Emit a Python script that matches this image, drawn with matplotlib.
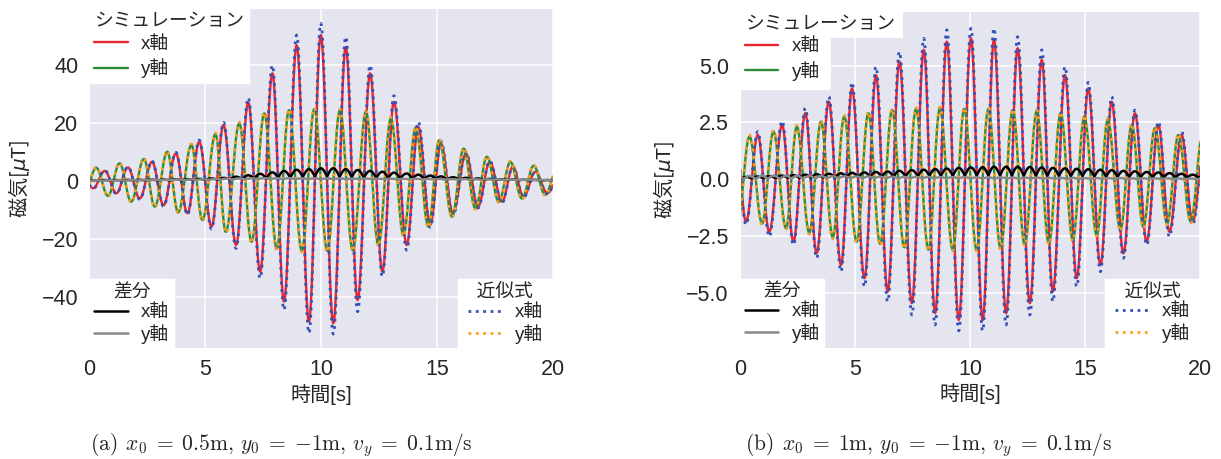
import numpy as np
import matplotlib.pyplot as plt
import seaborn as sns
from matplotlib.patches import Rectangle

# magnetic field, simulation vs. approximation
# extrema times [s] and values [uT]

# (a) x0 = 0.5m
a_x_t = [-0.35, 0.16, 0.66, 1.16, 1.66, 2.17, 2.70, 3.20, 3.73, 4.23, 4.74, 5.27, 5.79, 6.33,
         6.86, 7.37, 7.90, 8.40, 8.95, 9.48, 9.99, 10.53, 11.07, 11.58, 12.12, 12.65, 13.15,
         13.70, 14.20, 14.72, 15.18, 15.70, 16.26, 16.78, 17.29, 17.82, 18.29, 18.75, 19.26,
         19.78, 20.30]
a_x_sim = [2.6, -2.6, 3.4, -4.3, 4.6, -6.1, 6.5, -8.4, 9.4, -11.2, 13.4, -15.8, 19.2, -22.1,
           27.0, -31.3, 37.0, -41.6, 46.7, -48.5, 50.2, -49.1, 46.1, -41.1, 37.0, -31.3, 27.2,
           -22.1, 18.6, -15.2, 12.9, -11.2, 9.4, -8.9, 6.5, -7.2, 4.8, -5.5, 3.1, -4.3, 2.4]
a_x_apx = [2.7, -2.7, 3.6, -4.5, 4.8, -6.4, 6.8, -8.8, 9.8, -11.7, 14.0, -16.6, 20.1, -23.3,
           28.6, -33.6, 39.8, -44.5, 50.2, -52.5, 54.2, -52.8, 49.6, -45.1, 39.8, -33.0, 29.3,
           -23.9, 20.3, -16.0, 13.6, -11.8, 9.9, -9.4, 6.8, -7.6, 5.0, -5.8, 3.3, -4.5, 2.5]
a_y_t = [-0.20, 0.29, 0.80, 1.30, 1.80, 2.35, 2.82, 3.36, 3.83, 4.40, 4.88, 5.44, 5.89, 6.47,
         7.00, 7.55, 8.09, 8.62, 9.17, 9.71, 10.27, 10.82, 11.37, 11.94, 12.48, 13.02, 13.56,
         14.09, 14.64, 15.11, 15.66, 16.16, 16.67, 17.17, 17.68, 18.18, 18.68, 19.19, 19.68, 20.20]
a_y_sim = [-3.8, 4.5, -5.2, 6.0, -7.2, 7.5, -8.9, 10.0, -10.9, 12.3, -13.5, 16.1, -17.6, 19.8,
           -21.0, 23.2, -23.3, 24.3, -24.1, 24.7, -24.1, 24.3, -23.9, 23.8, -22.1, 21.5, -18.7,
           18.3, -15.8, 14.0, -12.4, 11.1, -9.5, 8.3, -7.2, 6.5, -6.1, 5.2, -4.8, 4.0]
a_y_apx = [-3.9, 4.7, -5.4, 6.2, -7.4, 7.8, -9.2, 10.3, -11.2, 12.7, -13.9, 16.5, -18.0, 20.2,
           -21.5, 23.6, -23.8, 24.7, -24.5, 25.1, -24.5, 24.7, -24.3, 24.2, -22.6, 21.9, -19.2,
           18.7, -16.2, 14.4, -12.8, 11.4, -9.8, 8.6, -7.5, 6.8, -6.4, 5.4, -5.0, 4.2]
# difference: bump tops (at the x / y extrema) and the lows between them
a_dx_peak = [0.2, 0.2, 0.25, 0.25, 0.3, 0.3, 0.35, 0.4, 0.45, 0.55, 0.65, 0.8, 1.0, 1.4, 1.9,
             2.4, 2.9, 3.4, 3.8, 4.0, 4.3, 4.3, 4.0, 3.7, 3.4, 3.1, 2.8, 2.5, 2.1, 1.8, 1.5,
             1.2, 1.0, 0.8, 0.65, 0.5, 0.45, 0.35, 0.3, 0.25, 0.2]
a_dx_low = [0.05, 0.05, 0.05, 0.05, 0.1, 0.1, 0.1, 0.1, 0.15, 0.2, 0.2, 0.3, 0.4, 0.5, 0.7,
            0.8, 1.0, 1.1, 1.3, 1.4, 1.4, 1.3, 1.2, 1.1, 1.0, 0.9, 0.8, 0.7, 0.6, 0.5, 0.4,
            0.35, 0.3, 0.25, 0.2, 0.15, 0.1, 0.1, 0.05, 0.05]
a_dy_peak = [0.1, 0.15, 0.15, 0.2, 0.2, 0.25, 0.3, 0.35, 0.4, 0.45, 0.5, 0.6, 0.7, 0.8, 0.85,
             0.9, 0.9, 0.9, 0.85, 0.85, 0.8, 0.8, 0.75, 0.75, 0.7, 0.7, 0.65, 0.65, 0.6, 0.6,
             0.55, 0.55, 0.5, 0.5, 0.45, 0.4, 0.35, 0.3, 0.25, 0.2]
a_dy_low = [0.0, 0.0, 0.05, 0.05, 0.1, 0.1, 0.15, 0.2, 0.2, 0.25, 0.3, 0.35, 0.4, 0.45, 0.5,
            0.5, 0.5, 0.5, 0.5, 0.5, 0.5, 0.5, 0.5, 0.5, 0.5, 0.45, 0.45, 0.45, 0.45, 0.4,
            0.4, 0.4, 0.35, 0.35, 0.3, 0.25, 0.2, 0.15, 0.1]

# (b) x0 = 1m
b_x_t = [-0.20, 0.26, 0.77, 1.27, 1.83, 2.32, 2.84, 3.33, 3.86, 4.39, 4.87, 5.41, 5.91, 6.42,
         6.93, 7.47, 7.99, 8.48, 8.99, 9.51, 10.04, 10.55, 11.04, 11.57, 12.07, 12.60, 13.12,
         13.60, 14.13, 14.64, 15.14, 15.67, 16.16, 16.67, 17.17, 17.68, 18.19, 18.67, 19.20,
         19.68, 20.20]
b_x_sim = [1.9, -1.87, 1.95, -2.31, 2.39, -2.75, 2.91, -3.26, 3.42, -3.78, 4.0, -4.36, 4.59,
           -4.95, 5.18, -5.46, 5.7, -5.9, 6.06, -6.2, 6.21, -6.2, 6.14, -5.9, 5.77, -5.46, 5.26,
           -4.95, 4.59, -4.36, 4.0, -3.78, 3.42, -3.26, 2.91, -2.75, 2.39, -2.31, 1.95, -1.87, 1.6]
b_x_apx = [2.0, -2.0, 2.1, -2.53, 2.57, -2.9, 3.13, -3.48, 3.64, -4.07, 4.27, -4.73, 4.96,
           -5.39, 5.62, -5.98, 6.21, -6.42, 6.58, -6.68, 6.65, -6.68, 6.65, -6.42, 6.28, -5.98,
           5.7, -5.39, 4.96, -4.73, 4.27, -4.07, 3.64, -3.48, 3.05, -2.9, 2.54, -2.53, 2.1, -2.0, 1.7]
b_y_t = [-0.10, 0.41, 0.96, 1.45, 2.00, 2.47, 3.01, 3.52, 4.03, 4.53, 5.07, 5.58, 6.09, 6.61,
         7.14, 7.65, 8.19, 8.69, 9.25, 9.75, 10.29, 10.80, 11.33, 11.86, 12.38, 12.90, 13.43,
         13.94, 14.47, 14.97, 15.51, 15.99, 16.54, 17.03, 17.54, 18.04, 18.57, 19.06, 19.60, 20.10]
b_y_sim = [-1.8, 1.88, -1.95, 2.1, -2.15, 2.32, -2.35, 2.54, -2.55, 2.76, -2.75, 2.91, -2.85,
           3.05, -3.0, 3.1, -3.1, 3.13, -3.1, 3.1, -3.11, 3.1, -3.04, 3.05, -2.89, 3.0, -2.82,
           2.91, -2.67, 2.76, -2.45, 2.61, -2.23, 2.39, -2.09, 2.25, -1.95, 1.95, -1.87, 1.9]
b_y_apx = [-1.85, 1.95, -2.0, 2.15, -2.2, 2.38, -2.42, 2.6, -2.62, 2.82, -2.82, 2.97, -2.92,
           3.1, -3.07, 3.16, -3.16, 3.19, -3.16, 3.16, -3.17, 3.16, -3.1, 3.1, -2.95, 3.05,
           -2.88, 2.97, -2.73, 2.82, -2.5, 2.67, -2.3, 2.45, -2.15, 2.3, -2.0, 2.0, -1.92, 1.95]
b_dx_peak = [0.1, 0.1, 0.12, 0.14, 0.16, 0.18, 0.2, 0.22, 0.24, 0.26, 0.28, 0.3, 0.32, 0.34,
             0.37, 0.4, 0.42, 0.45, 0.47, 0.5, 0.52, 0.53, 0.55, 0.55, 0.55, 0.54, 0.52, 0.5,
             0.48, 0.46, 0.44, 0.42, 0.4, 0.37, 0.35, 0.32, 0.3, 0.27, 0.24, 0.2, 0.18]
b_dx_low = [0.02, 0.03, 0.03, 0.04, 0.05, 0.05, 0.06, 0.07, 0.08, 0.08, 0.09, 0.1, 0.1, 0.11,
            0.12, 0.13, 0.14, 0.15, 0.15, 0.16, 0.16, 0.16, 0.16, 0.16, 0.15, 0.15, 0.14, 0.14,
            0.13, 0.13, 0.12, 0.11, 0.11, 0.1, 0.1, 0.09, 0.08, 0.08, 0.07, 0.06]
b_dy_peak = [0.12, 0.14, 0.15, 0.15, 0.15, 0.15, 0.14, 0.14, 0.13, 0.13, 0.12, 0.12, 0.11, 0.11,
             0.1, 0.1, 0.1, 0.09, 0.09, 0.09, 0.08, 0.08, 0.08, 0.07, 0.07, 0.07, 0.06, 0.06,
             0.06, 0.05, 0.05, 0.05, 0.05, 0.04, 0.04, 0.04, 0.04, 0.03, 0.03, 0.03]
b_dy_low = [0.0, 0.0, 0.01, 0.01, 0.02, 0.02, 0.02, 0.03, 0.03, 0.03, 0.03, 0.03, 0.03, 0.03,
            0.03, 0.03, 0.03, 0.03, 0.03, 0.03, 0.02, 0.02, 0.02, 0.02, 0.02, 0.02, 0.02, 0.01,
            0.01, 0.01, 0.01, 0.01, 0.0, 0.0, 0.0, 0.0, 0.0, 0.0, 0.0]

captions = [r'$\mathrm{(a)}\;\,x_0\;=\;0.5\mathrm{m},\,y_0\;=\;{-1}\mathrm{m},\,v_y\;=\;0.1\mathrm{m/s}$',
            r'$\mathrm{(b)}\;\,x_0\;=\;1\mathrm{m},\,y_0\;=\;{-1}\mathrm{m},\,v_y\;=\;0.1\mathrm{m/s}$']

sns.set_style('darkgrid', {'axes.facecolor': '#E4E5EF'})
plt.rcParams['font.family'] = ['Liberation Sans', 'Noto Sans CJK JP']

C_RED, C_GREEN, C_BLUE, C_ORANGE = '#E8262F', '#2E8B36', '#3350B8', '#F5A020'


def wave(t_ext, v_ext, n=30):
    # smooth half-cosine strokes between successive extrema
    s = np.linspace(0, 1, n, endpoint=False)
    ts, vs = [], []
    for i in range(len(t_ext) - 1):
        ts.append(t_ext[i] + (t_ext[i + 1] - t_ext[i]) * s)
        vs.append(v_ext[i] + (v_ext[i + 1] - v_ext[i]) * (1 - np.cos(np.pi * s)) / 2)
    ts.append([t_ext[-1]])
    vs.append([v_ext[-1]])
    return np.concatenate(ts), np.concatenate(vs)


def bumps(t_peak, v_peak, v_low, n=20):
    # rounded tops at t_peak, sharp lows half way between
    t_peak = np.asarray(t_peak)
    t_low = (t_peak[:-1] + t_peak[1:]) / 2
    s = np.linspace(0, 1, n, endpoint=False)
    ts, vs = [], []
    for i in range(len(t_low)):
        ts.append(t_peak[i] + (t_low[i] - t_peak[i]) * s)
        vs.append(v_peak[i] + (v_low[i] - v_peak[i]) * (1 - np.cos(np.pi * s / 2)))
        ts.append(t_low[i] + (t_peak[i + 1] - t_low[i]) * s)
        vs.append(v_low[i] + (v_peak[i + 1] - v_low[i]) * np.sin(np.pi * s / 2))
    ts.append([t_peak[-1]])
    vs.append([v_peak[-1]])
    return np.concatenate(ts), np.concatenate(vs)


def panel(ax, xt, xs, xa, yt, ys, ya, dxp, dxl, dyp, dyl, ylim, yticks, lpad):
    l_xs, = ax.plot(*wave(xt, xs), color=C_RED, lw=1.7)
    l_ys, = ax.plot(*wave(yt, ys), color=C_GREEN, lw=1.7)
    l_xa, = ax.plot(*wave(xt, xa), color=C_BLUE, lw=2.0, ls=':')
    l_ya, = ax.plot(*wave(yt, ya), color=C_ORANGE, lw=2.0, ls=':')
    l_dx, = ax.plot(*bumps(xt, dxp, dxl), color='black', lw=1.8)
    l_dy, = ax.plot(*bumps(yt, dyp, dyl), color='#888888', lw=1.8)

    ax.set_xlim(0, 20)
    ax.set_ylim(*ylim)
    ax.set_xticks([0, 5, 10, 15, 20])
    ax.set_yticks(yticks)
    ax.tick_params(labelsize=15.5, pad=8, length=0)
    ax.set_xlabel('時間[s]', fontsize=14.5)
    # single family so the text around $\mu$ finds the kanji
    ax.set_ylabel(r'磁気[$\mu$T]', fontsize=14.5, fontfamily='Noto Sans CJK JP')
    ax.xaxis.set_label_coords(0.5, -0.105)
    ax.yaxis.set_label_coords(lpad, 0.5)
    ax.grid(color='white', lw=1.1)

    kw = dict(fontsize=13.5, title_fontsize=13.5, borderaxespad=0, borderpad=0.25,
              labelspacing=0.15, handlelength=1.8, handletextpad=0.7,
              facecolor='white', edgecolor='white', framealpha=1, fancybox=False)
    leg1 = ax.legend([l_xs, l_ys], ['x軸', 'y軸'], title='シミュレーション', loc='upper left',
                     alignment='left', **dict(kw, labelspacing=0.3))
    ax.add_artist(leg1)
    leg2 = ax.legend([l_dx, l_dy], ['x軸', 'y軸'], title='差分', loc='lower left', **kw)
    ax.add_artist(leg2)
    # the approximation box is a little wider than its entries
    ax.legend([l_xa, l_ya], ['x軸', 'y軸'], title=' \u2002近似式\u2002 ', loc='lower right', **kw)
    return leg1


fig = plt.figure(figsize=(12.21, 4.59), dpi=100)
ax_a = fig.add_axes([0.0733, 0.2412, 0.3792, 0.7407])
ax_b = fig.add_axes([0.6061, 0.2425, 0.3767, 0.7335])

panel(ax_a, a_x_t, a_x_sim, a_x_apx, a_y_t, a_y_sim, a_y_apx,
      a_dx_peak, a_dx_low, a_dy_peak, a_dy_low, (-57.7, 59.4), [-40, -20, 0, 20, 40], -0.125)
leg = panel(ax_b, b_x_t, b_x_sim, b_x_apx, b_y_t, b_y_sim, b_y_apx,
            b_dx_peak, b_dx_low, b_dy_peak, b_dy_low, (-7.42, 7.41), [-5, -2.5, 0, 2.5, 5], -0.137)

# in (b) the white box behind the first legend is stepped: wide title row, narrow entries
leg.set_frame_on(False)
ax_b.add_patch(Rectangle((0, 0.92), 0.354, 0.08, transform=ax_b.transAxes,
                         facecolor='white', edgecolor='none', zorder=4))
ax_b.add_patch(Rectangle((0, 0.765), 0.198, 0.16, transform=ax_b.transAxes,
                         facecolor='white', edgecolor='none', zorder=4))

fig.text(0.0737, 0.0196, captions[0], fontsize=15.5, math_fontfamily='cm', va='baseline')
fig.text(0.610, 0.0196, captions[1], fontsize=15.5, math_fontfamily='cm', va='baseline')

plt.savefig('out.png', dpi=100)
